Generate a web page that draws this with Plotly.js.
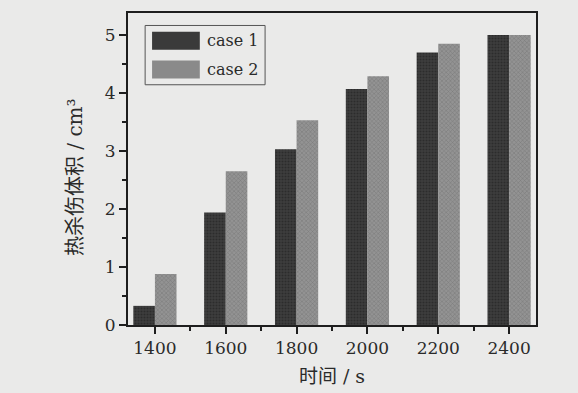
<!DOCTYPE html>
<html><head><meta charset="utf-8">
<script src="https://cdn.plot.ly/plotly-3.0.1.min.js"></script>
<style>html,body{margin:0;padding:0;background:#eaeae9;}</style>
</head><body>
<div id="chart" style="width:578px;height:393px;"></div>
<script>
const times = [1400, 1600, 1800, 2000, 2200, 2400];
const case1 = [0.33, 1.94, 3.03, 4.07, 4.70, 5.00];
const case2 = [0.88, 2.65, 3.53, 4.29, 4.85, 5.00];
const seriesNames = ['case 1', 'case 2'];
const xTitle = '时间 / s';
const yTitle = '热杀伤体积 / cm³';

const serif = 'DejaVu Serif, serif';
const mixed = 'DejaVu Serif, Noto Sans CJK SC, serif';
const traces = [
  {type:'bar', x: times, y: case1, name: seriesNames[0], showlegend:false,
   marker:{color:'#3a3a3a', line:{width:0},
     pattern:{shape:'.', fgcolor:'#2c2c2c', bgcolor:'#3e3e3e', size:3, solidity:0.4}}},
  {type:'bar', x: times, y: case2, name: seriesNames[1], showlegend:false,
   marker:{color:'#8a8a8a', line:{width:0},
     pattern:{shape:'x', fgcolor:'#767676', bgcolor:'#939393', size:3, solidity:0.3}}}
];

const layout = {
  width:578, height:393,
  margin:{l:128, r:42, t:13, b:68},
  paper_bgcolor:'#eaeae9', plot_bgcolor:'#eaeae9',
  barmode:'group', bargap:0.39, bargroupgap:0,
  font:{family:serif, color:'#2a2a2a', size:16},
  xaxis:{range:[1324, 2476], tickmode:'array', tickvals:times, ticktext:times.map(String),
    ticks:'outside', ticklen:7, tickwidth:2, tickcolor:'#1e1e1e',
    minor:{tickvals:[1500,1700,1900,2100,2300], ticks:'outside', ticklen:4, tickwidth:2, tickcolor:'#1e1e1e'},
    showline:true, linecolor:'#1e1e1e', linewidth:2, mirror:true, showgrid:false, zeroline:false,
    tickfont:{family:serif, size:17, color:'#2a2a2a'},
    title:{text:xTitle, font:{family:mixed, size:19, color:'#2a2a2a'}, standoff:12}},
  yaxis:{range:[0, 5.38], dtick:1, tick0:0,
    ticks:'outside', ticklen:7, tickwidth:2, tickcolor:'#1e1e1e',
    minor:{dtick:0.5, ticks:'outside', ticklen:4, tickwidth:2, tickcolor:'#1e1e1e'},
    showline:true, linecolor:'#1e1e1e', linewidth:2, mirror:true, showgrid:false, zeroline:false,
    tickfont:{family:serif, size:17, color:'#2a2a2a'}},
  shapes:[
    {type:'rect', xref:'paper', yref:'paper', x0:0.042, x1:0.336, y0:0.77, y1:0.96,
     line:{color:'#555', width:1}, fillcolor:'rgba(0,0,0,0)'},
    {type:'rect', xref:'paper', yref:'paper', x0:0.059, x1:0.176, y0:0.882, y1:0.94,
     line:{width:0}, fillcolor:'#3a3a3a'},
    {type:'rect', xref:'paper', yref:'paper', x0:0.059, x1:0.176, y0:0.79, y1:0.848,
     line:{width:0}, fillcolor:'#8a8a8a'}
  ],
  annotations:[
    {xref:'paper', yref:'paper', x:0.189, y:0.911, xanchor:'left', yanchor:'middle', showarrow:false,
     text:seriesNames[0], font:{family:serif, size:16, color:'#2a2a2a'}},
    {xref:'paper', yref:'paper', x:0.189, y:0.819, xanchor:'left', yanchor:'middle', showarrow:false,
     text:seriesNames[1], font:{family:serif, size:16, color:'#2a2a2a'}},
    {xref:'paper', yref:'paper', x:-0.13, y:0.474, xanchor:'center', yanchor:'middle', showarrow:false,
     textangle:-90, text:yTitle, font:{family:mixed, size:20, color:'#2a2a2a'}}
  ]
};
Plotly.newPlot('chart', traces, layout, {displayModeBar:false, staticPlot:true});
</script>
</body></html>
